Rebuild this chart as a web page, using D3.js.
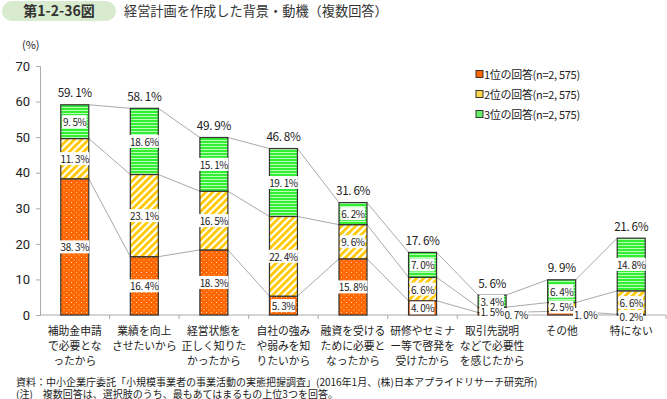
<!DOCTYPE html>
<html>
<head>
<meta charset="utf-8">
<script src="https://cdn.jsdelivr.net/npm/d3@7"></script>
<style>
  body { margin: 0; background: #fff; }
  svg text { font-family: "Noto Sans CJK JP", "Noto Sans", sans-serif; fill: #222; }
</style>
</head>
<body>
<div id="chart"></div>
<script>
const categories = [
  ["補助金申請", "で必要とな", "ったから"],
  ["業績を向上", "させたいから"],
  ["経営状態を", "正しく知りた", "かったから"],
  ["自社の強み", "や弱みを知", "りたいから"],
  ["融資を受ける", "ために必要と", "なったから"],
  ["研修やセミナ", "ー等で啓発を", "受けたから"],
  ["取引先説明", "などで必要性", "を感じたから"],
  ["その他"],
  ["特にない"]
];
const rank1 = [38.3, 16.4, 18.3, 5.3, 15.8, 4.0, 0.7, 1.0, 0.2];
const rank2 = [11.3, 23.1, 16.5, 22.4, 9.6, 6.6, 1.5, 2.5, 6.6];
const rank3 = [9.5, 18.6, 15.1, 19.1, 6.2, 7.0, 3.4, 6.4, 14.8];
const totals = [59.1, 58.1, 49.9, 46.8, 31.6, 17.6, 5.6, 9.9, 21.6];
const seriesNames = ["1位の回答(n=2, 575)", "2位の回答(n=2, 575)", "3位の回答(n=2, 575)"];
const yTicks = [0, 10, 20, 30, 40, 50, 60, 70];

const W = 667, H = 399;
const margin = {top: 66, right: 1, bottom: 84, left: 40};
const width = W - margin.left - margin.right;
const height = H - margin.top - margin.bottom;

const svg = d3.select("#chart").append("svg")
  .attr("width", W).attr("height", H);

// patterns
const defs = svg.append("defs");
const pDots = defs.append("pattern").attr("id", "pDots")
  .attr("patternUnits", "userSpaceOnUse").attr("width", 5).attr("height", 5);
pDots.append("rect").attr("width", 5).attr("height", 5).attr("fill", "#ff6600");
pDots.append("rect").attr("x", 1).attr("y", 1).attr("width", 1).attr("height", 1).attr("fill", "#ffd2b0");
pDots.append("rect").attr("x", 3.5).attr("y", 3.5).attr("width", 1).attr("height", 1).attr("fill", "#ffd2b0");

const pDiag = defs.append("pattern").attr("id", "pDiag")
  .attr("patternUnits", "userSpaceOnUse").attr("width", 5).attr("height", 5)
  .attr("patternTransform", "rotate(45)");
pDiag.append("rect").attr("width", 5).attr("height", 5).attr("fill", "#ffffff");
pDiag.append("rect").attr("width", 2.8).attr("height", 5).attr("fill", "#ffc800");

const pHoriz = defs.append("pattern").attr("id", "pHoriz")
  .attr("patternUnits", "userSpaceOnUse").attr("width", 4).attr("height", 3);
pHoriz.append("rect").attr("width", 4).attr("height", 3).attr("fill", "#33ee33");
pHoriz.append("rect").attr("y", 2).attr("width", 4).attr("height", 1).attr("fill", "#b8ffb8");

const fills = ["url(#pDots)", "url(#pDiag)", "url(#pHoriz)"];
const legendFills = ["#ff6600", "#ffd84a", "#66ee66"];

// title
svg.append("rect").attr("x", 2).attr("y", 1).attr("width", 114).attr("height", 20)
  .attr("rx", 10).attr("fill", "#d8ebcf");
svg.append("text").attr("x", 59).attr("y", 16).attr("text-anchor", "middle")
  .attr("font-size", 14).attr("font-weight", "bold").style("fill", "#333")
  .text("第1-2-36図");
svg.append("text").attr("x", 124).attr("y", 16)
  .attr("font-size", 13.2).style("fill", "#333")
  .text("経営計画を作成した背景・動機（複数回答）");

const g = svg.append("g").attr("transform", `translate(${margin.left},${margin.top})`);

const x = d3.scaleBand().domain(d3.range(categories.length)).range([0, width]).paddingInner(0).paddingOuter(0);
const y = d3.scaleLinear().domain([0, 70]).range([height, 0]);
const barW = 28;
const bx = i => x(i) + (x.bandwidth() - barW) / 2;

// y axis
const yAxis = g.append("g").call(d3.axisLeft(y).tickValues(yTicks).tickSize(4).tickPadding(6));
yAxis.select(".domain").attr("stroke", "#aaa");
yAxis.selectAll(".tick line").attr("stroke", "#aaa");
yAxis.selectAll("text").attr("font-size", 13).style("font-family", "Roboto, 'Noto Sans', sans-serif");
g.append("text").attr("x", -18).attr("y", -17).attr("font-size", 11).text("(%)");

// x axis line with ticks at band edges
g.append("line").attr("x1", 0).attr("x2", width).attr("y1", height).attr("y2", height).attr("stroke", "#aaa");
g.selectAll(".xt").data(d3.range(1, categories.length + 1)).enter().append("line")
  .attr("x1", i => x.step() * i).attr("x2", i => x.step() * i)
  .attr("y1", height).attr("y2", height + 4).attr("stroke", "#aaa");

// category labels
categories.forEach((lines, i) => {
  lines.forEach((ln, k) => {
    g.append("text").attr("text-anchor", "middle").attr("dominant-baseline", "central")
      .attr("font-size", 10.8)
      .attr("x", x(i) + x.bandwidth() / 2).attr("y", height + 15 + k * 15).text(ln);
  });
});

// stack
const series = [rank1, rank2, rank3];
const stacked = series.map((s, si) => s.map((v, i) => {
  let base = 0;
  for (let k = 0; k < si; k++) base += series[k][i];
  return {v, y0: base, y1: base + v, i, si};
}));

// connector lines
stacked.forEach(s => {
  for (let i = 0; i < s.length - 1; i++) {
    g.append("line")
      .attr("x1", bx(i) + barW).attr("y1", y(s[i].y1))
      .attr("x2", bx(i + 1)).attr("y2", y(s[i + 1].y1))
      .attr("stroke", "#aaa").attr("stroke-width", 1);
  }
});

// bars
stacked.forEach((s, si) => {
  g.selectAll(".bar" + si).data(s).enter().append("rect")
    .attr("x", d => bx(d.i))
    .attr("y", d => y(d.y1))
    .attr("width", barW)
    .attr("height", d => y(d.y0) - y(d.y1))
    .attr("fill", fills[si])
    .attr("stroke", "#333").attr("stroke-width", 1.2);
});

const fmt = v => v.toFixed(1).replace(".", ". ") + "%";

function label(px, py, txt, size) {
  const t = g.append("text").attr("x", px).attr("y", py)
    .attr("text-anchor", "middle").attr("dominant-baseline", "central")
    .attr("font-size", size).attr("letter-spacing", -0.4).text(txt);
  const bb = t.node().getBBox();
  g.insert("rect", () => t.node())
    .attr("x", bb.x - 1).attr("y", bb.y + 1).attr("width", bb.width + 1).attr("height", bb.height - 2)
    .attr("fill", "#fff");
}

// segment labels
stacked.forEach(s => {
  s.forEach(d => {
    const cx = bx(d.i) + barW / 2;
    const cy = y((d.y0 + d.y1) / 2);
    if (d.v < 1.2) {
      if (d.i === categories.length - 1) label(cx, y(0) + 1.5, fmt(d.v), 10);
      else label(bx(d.i) + barW + 10, y(0) - 0.5, fmt(d.v), 10);
    } else if (d.v < 2) {
      label(cx, cy + 1.5, fmt(d.v), 10);
    } else {
      label(cx, cy, fmt(d.v), 10);
    }
  });
});

// totals
totals.forEach((v, i) => {
  g.append("text").attr("x", bx(i) + barW / 2).attr("y", y(v) - 13)
    .attr("text-anchor", "middle").attr("dominant-baseline", "central")
    .attr("font-size", 11.8).attr("letter-spacing", -0.4).text(fmt(v));
});

// legend
seriesNames.forEach((nm, k) => {
  const ly = 74 + k * 20;
  svg.append("rect").attr("x", 476).attr("y", ly - 3.5).attr("width", 7).attr("height", 7)
    .attr("fill", legendFills[k]).attr("stroke", "#333").attr("stroke-width", 1);
  svg.append("text").attr("x", 484).attr("y", ly).attr("dominant-baseline", "central")
    .attr("font-size", 11).attr("letter-spacing", -0.3).text(nm);
});

// footnotes
svg.append("text").attr("x", 16).attr("y", 381).attr("dominant-baseline", "central").attr("font-size", 10)
  .text("資料：中小企業庁委託「小規模事業者の事業活動の実態把握調査」(2016年1月、(株)日本アプライドリサーチ研究所)");
svg.append("text").attr("x", 16).attr("y", 393).attr("dominant-baseline", "central").attr("font-size", 10)
  .text("(注)　複数回答は、選択肢のうち、最もあてはまるもの上位3つを回答。");
</script>
</body>
</html>
